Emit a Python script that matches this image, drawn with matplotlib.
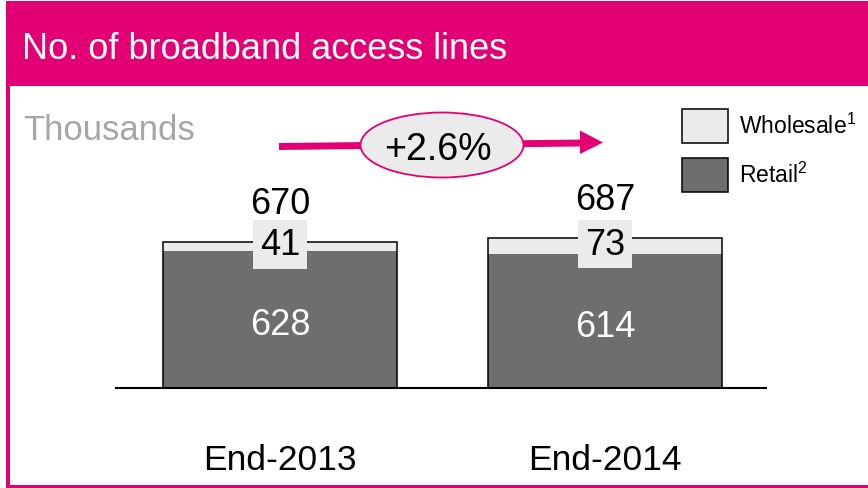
import matplotlib
matplotlib.use("Agg")
import matplotlib.pyplot as plt
from matplotlib import font_manager as fm
from matplotlib.patches import Rectangle, Ellipse, Polygon
from matplotlib.lines import Line2D

# ---------------- data ----------------
categories = ["End-2013", "End-2014"]
retail = [628, 614]
wholesale = [41, 73]
totals = [670, 687]
series_names = ["Wholesale$^{1}$", "Retail$^{2}$"]
growth_label = "+2.6%"
unit_label = "Thousands"
title = "No. of broadband access lines"

# ---------------- style ----------------
MAGENTA = "#E20074"
C_WHOLE = "#EBEBEB"
C_RETAIL = "#6E6E6E"

names = {f.name for f in fm.fontManager.ttflist}
SANS = "Liberation Sans" if "Liberation Sans" in names else "DejaVu Sans"
NARROW = SANS

plt.rcParams["mathtext.fontset"] = "custom"
plt.rcParams["mathtext.rm"] = SANS
plt.rcParams["mathtext.it"] = SANS
plt.rcParams["mathtext.bf"] = SANS

W, H = 868, 489
fig = plt.figure(figsize=(W / 100, H / 100), dpi=100)


def fx(x):
    return x / W


def fy(y):
    return 1 - y / H


# header and frame
fig.patches.append(Rectangle((fx(6), fy(87)), fx(W - 6), (87 - 2) / H,
                             transform=fig.transFigure, facecolor=MAGENTA,
                             edgecolor="none", zorder=1))
fig.patches.append(Rectangle((fx(6), fy(489)), fx(4), (489 - 87) / H,
                             transform=fig.transFigure, facecolor=MAGENTA,
                             edgecolor="none", zorder=1))
fig.patches.append(Rectangle((fx(6), fy(489)), fx(W - 6), 3 / H,
                             transform=fig.transFigure, facecolor=MAGENTA,
                             edgecolor="none", zorder=1))

fig.text(fx(22), fy(59), title, color="white", fontsize=26, va="baseline",
         ha="left", family=NARROW)
fig.text(fx(23), fy(139.5), unit_label, color="#A6A6A6", fontsize=25,
         va="baseline", ha="left", family=SANS)

# ---------------- axes ----------------
ax = fig.add_axes([fx(116), fy(389), 650 / W, 289 / H])
ax.patch.set_visible(False)
px_per_unit = 137 / 628
ax.set_ylim(0, 289 / px_per_unit)
ax.set_xlim(-164 / 325, 1 - 164 / 325 + 1)
x = list(range(len(categories)))
bw = 234 / 325

b_ret = ax.bar(x, retail, width=bw, color=C_RETAIL, edgecolor="none", zorder=2)
b_who = ax.bar(x, wholesale, bottom=retail, width=bw, color=C_WHOLE,
               edgecolor="none", zorder=2)
stack = [r + w for r, w in zip(retail, wholesale)]
ax.bar(x, stack, width=bw, fill=False, edgecolor="black", linewidth=1.1,
       zorder=3)

for s in ["top", "left", "right"]:
    ax.spines[s].set_visible(False)
ax.spines["bottom"].set_linewidth(1.5)
ax.spines["bottom"].set_zorder(4)
ax.set_yticks([])
ax.set_xticks(x, categories)
ax.tick_params(axis="x", length=0, pad=81 * 0.72, labelsize=25.5)
for lab in ax.get_xticklabels():
    lab.set_va("baseline")
    lab.set_fontfamily(NARROW)

for i in x:
    ax.annotate(str(totals[i]), (i, stack[i]), xytext=(0, 29),
                textcoords="offset pixels", ha="center", va="baseline",
                fontsize=26, color="black", family=NARROW)
    ax.annotate(str(wholesale[i]), (i, retail[i] + wholesale[i] / 2),
                xytext=(0, 2), textcoords="offset pixels", ha="center",
                va="center", fontsize=26, color="black", zorder=5,
                bbox=dict(boxstyle="square,pad=0.19", facecolor=C_WHOLE,
                          edgecolor="none"), family=NARROW)
    ax.annotate(str(retail[i]), (i, retail[i] / 2), xytext=(0, -14.5),
                textcoords="offset pixels", ha="center", va="baseline",
                fontsize=26, color="white", family=SANS)

# ---------------- growth arrow ----------------
fig.lines.append(Line2D([fx(279), fx(582)], [fy(147.5), fy(144)],
                        transform=fig.transFigure, color=MAGENTA, lw=5,
                        solid_capstyle="butt", zorder=2))
fig.patches.append(Polygon([(fx(580), fy(131.5)), (fx(603), fy(143.5)),
                            (fx(580), fy(155))], closed=True,
                           transform=fig.transFigure, facecolor=MAGENTA,
                           edgecolor="none", zorder=2))
fig.patches.append(Ellipse((fx(442), fy(146)), 163 / W, 65 / H,
                           transform=fig.transFigure, facecolor=C_WHOLE,
                           edgecolor=MAGENTA, lw=1.3, zorder=3))
fig.text(fx(437.5), fy(160), growth_label, ha="center", va="baseline",
         fontsize=27, color="black", family=SANS, zorder=4)

# ---------------- legend ----------------
fs = 16.5
hh = (34 * 0.72 / fs - 0.245) / 0.65
leg = fig.legend([b_who, b_ret], series_names, loc="upper left",
                 bbox_to_anchor=(fx(682), fy(110)), frameon=False,
                 prop=dict(family=SANS, size=fs), handlelength=46 * 0.72 / fs,
                 handleheight=hh, handletextpad=11 * 0.72 / fs,
                 labelspacing=0.65, borderpad=0, borderaxespad=0)
for h in leg.legend_handles:
    h.set_edgecolor("black")
    h.set_linewidth(1.1)

fig.savefig("out.png", dpi=100)
